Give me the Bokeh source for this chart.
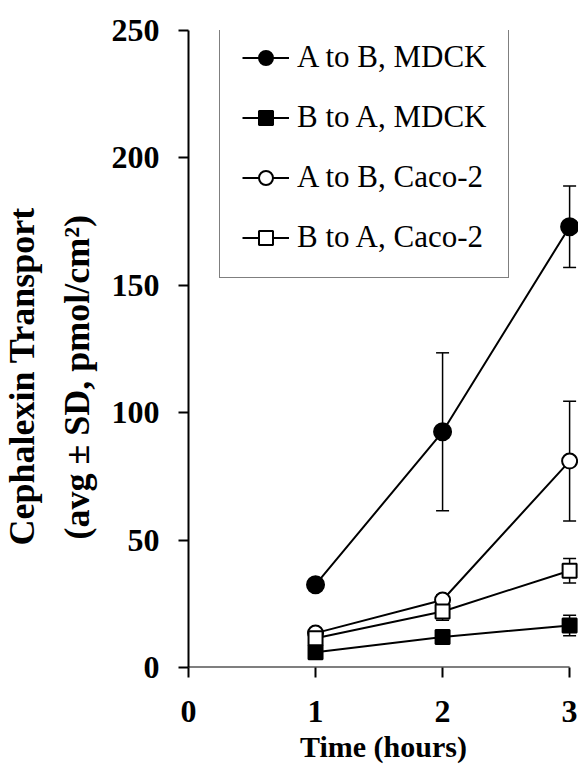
from bokeh.plotting import figure
from bokeh.models import (Range1d, FixedTicker, Whisker, TeeHead, ColumnDataSource,
                          Legend, LegendItem, Title)
from bokeh.embed import file_html
from bokeh.resources import INLINE

# ---- data ----
time_h = [1, 2, 3]
ab_mdck = [32.5, 92.5, 173.0]
ab_mdck_sd = [1.5, 31.0, 16.0]
ba_mdck = [6.0, 12.0, 16.5]
ba_mdck_sd = [1.0, 1.0, 4.0]
ab_caco = [13.5, 26.5, 81.0]
ab_caco_sd = [1.5, 2.0, 23.5]
ba_caco = [11.5, 22.0, 38.0]
ba_caco_sd = [1.5, 3.5, 4.8]

x_ticks = [0, 1, 2, 3]
y_ticks = [0, 50, 100, 150, 200, 250]

series_names = ["A to B, MDCK", "B to A, MDCK", "A to B, Caco-2", "B to A, Caco-2"]
x_title = "Time (hours)"
y_title_1 = "Cephalexin Transport"
y_title_2 = "(avg ± SD, pmol/cm²)"

SERIF = "Liberation Serif"

p = figure(width=578, height=768, output_backend="svg", toolbar_location=None,
           x_range=Range1d(0, 3.07), y_range=Range1d(0, 250),
           min_border_left=188, min_border_right=0, min_border_top=30,
           min_border_bottom=101)
p.outline_line_color = None
p.grid.grid_line_color = None
p.background_fill_color = "white"

for ax in (p.xaxis, p.yaxis):
    ax.major_label_text_font = SERIF
    ax.major_label_text_font_style = "bold"
    ax.major_label_text_font_size = "32px"
    ax.major_label_text_color = "black"
    ax.axis_line_color = "black"
    ax.axis_line_width = 2
    ax.major_tick_line_color = "black"
    ax.major_tick_line_width = 2
    ax.major_tick_out = 10
    ax.major_tick_in = 0
    ax.minor_tick_line_color = None

p.xaxis.ticker = FixedTicker(ticks=x_ticks)
p.yaxis.ticker = FixedTicker(ticks=y_ticks)
p.xaxis.axis_line_color = None
p.xaxis.major_label_standoff = 23
p.yaxis.major_label_standoff = 19

p.xaxis.axis_label = x_title
p.xaxis.axis_label_text_font = SERIF
p.xaxis.axis_label_text_font_style = "bold"
p.xaxis.axis_label_text_font_size = "30px"
p.xaxis.axis_label_text_color = "black"
p.xaxis.axis_label_standoff = 5

# x axis line from first to last tick
p.segment(x0=[x_ticks[0]], y0=[y_ticks[0]], x1=[x_ticks[-1]], y1=[y_ticks[0]],
          line_color="black", line_width=2)

def add_series(y, sd, marker, fill, size):
    src = ColumnDataSource(dict(x=time_h, y=y,
                                upper=[a + b for a, b in zip(y, sd)],
                                lower=[a - b for a, b in zip(y, sd)]))
    w = Whisker(source=src, base="x", upper="upper", lower="lower",
                line_color="black", line_width=1.5,
                upper_head=TeeHead(size=13, line_color="black", line_width=1.5),
                lower_head=TeeHead(size=13, line_color="black", line_width=1.5))
    p.add_layout(w)
    ln = p.line("x", "y", source=src, line_color="black", line_width=2)
    sc = p.scatter("x", "y", source=src, marker=marker, size=size,
                   fill_color=fill, line_color="black", line_width=2)
    return ln, sc

r1 = add_series(ab_mdck, ab_mdck_sd, "circle", "black", 17)
r2 = add_series(ba_mdck, ba_mdck_sd, "square", "black", 14)
r3 = add_series(ab_caco, ab_caco_sd, "circle", "white", 15)
r4 = add_series(ba_caco, ba_caco_sd, "square", "white", 14)

legend = Legend(items=[LegendItem(label=n, renderers=list(r))
                       for n, r in zip(series_names, [r1, r2, r3, r4])],
                location=(31, 389))
legend.label_text_font = SERIF
legend.label_text_font_size = "31px"
legend.label_text_color = "black"
legend.glyph_width = 47
legend.glyph_height = 35
legend.label_height = 35
legend.label_standoff = 8
legend.spacing = 24
legend.padding = 22
legend.margin = 0
legend.border_line_color = "black"
legend.border_line_width = 1
legend.background_fill_alpha = 1
p.add_layout(legend)

# y axis titles (two lines)
t2 = Title(text=y_title_2, align="left", offset=128, text_font=SERIF,
           text_font_style="bold", text_font_size="36px", text_color="black",
           standoff=24)
t1 = Title(text=y_title_1, align="left", offset=122, text_font=SERIF,
           text_font_style="bold", text_font_size="36px", text_color="black",
           standoff=-2, vertical_align="top")
p.add_layout(t2, "left")
p.add_layout(t1, "left")

open("out.html", "w").write(file_html(p, INLINE))
